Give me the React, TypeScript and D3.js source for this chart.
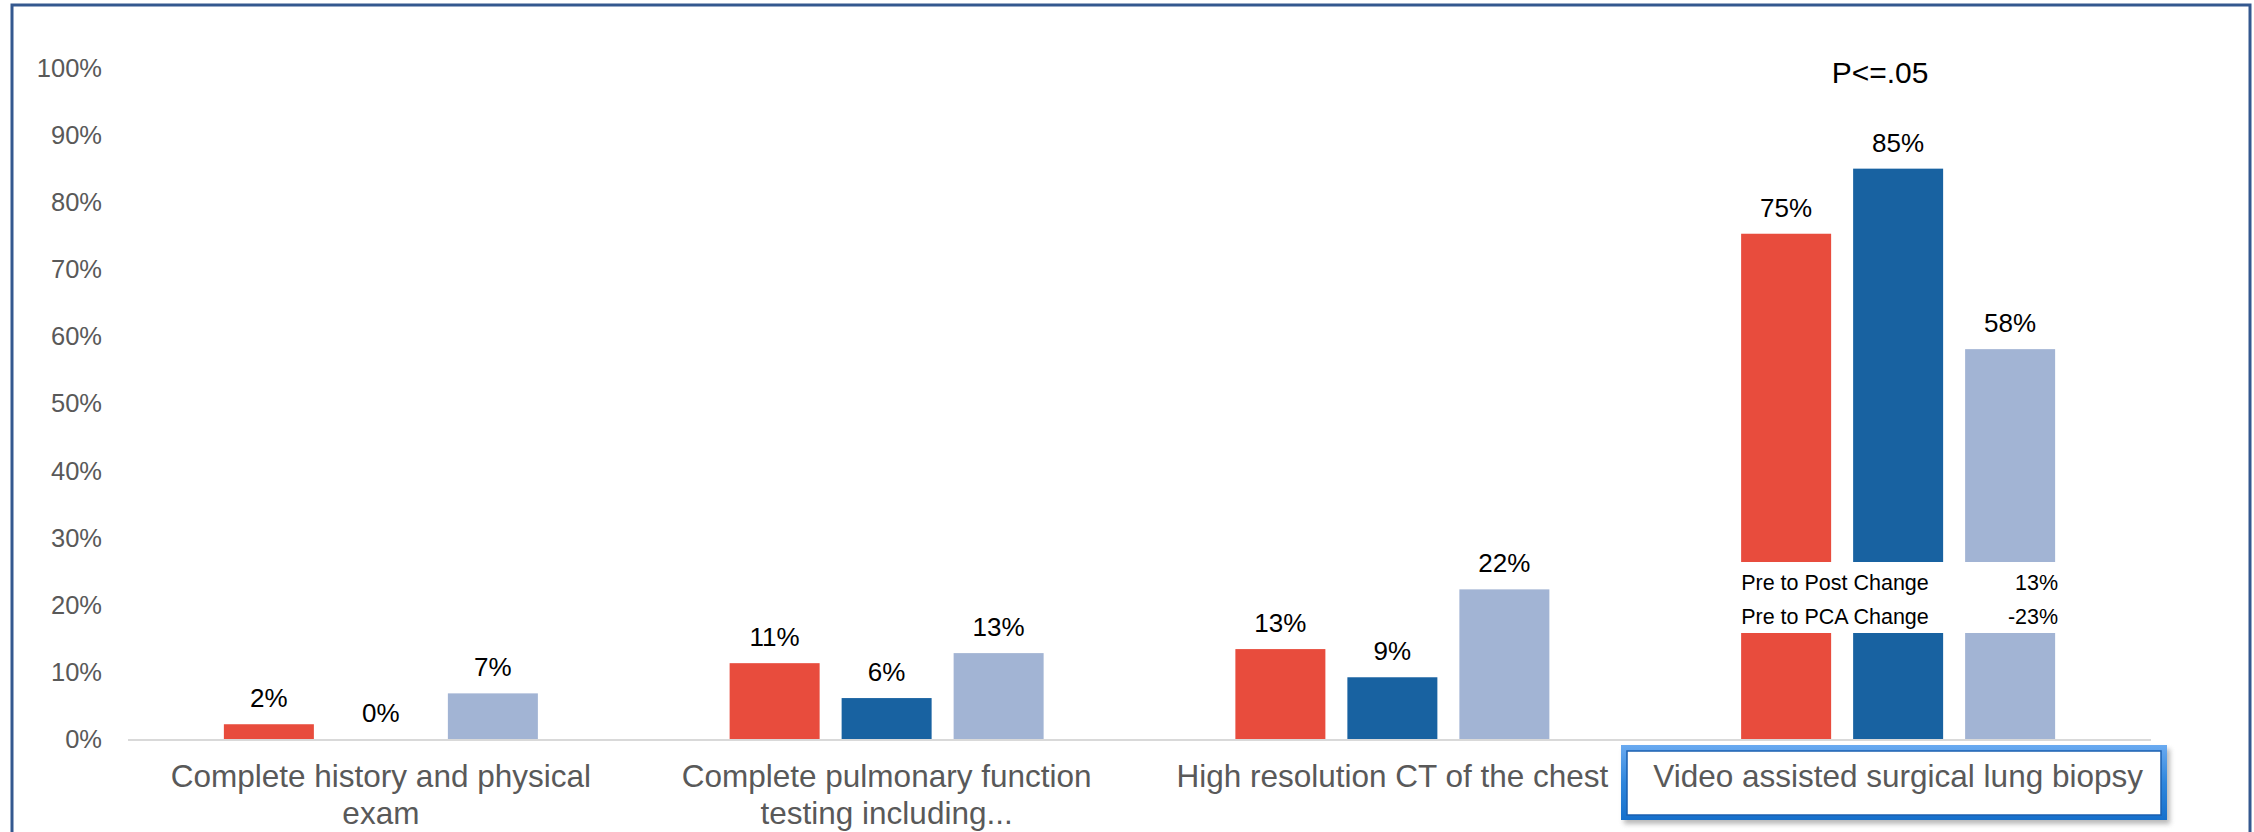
import React from "react";
import * as d3 from "d3";

const categories = [
  "Complete history and physical exam",
  "Complete pulmonary function testing including...",
  "High resolution CT of the chest",
  "Video assisted surgical lung biopsy",
];
const categoryLines = [
  ["Complete history and physical", "exam"],
  ["Complete pulmonary function", "testing including..."],
  ["High resolution CT of the chest"],
  ["Video assisted surgical lung biopsy"],
];
const seriesNames = ["Pre", "Post", "PCA"];
const preValues = [2.2, 11.3, 13.4, 75.3];
const postValues = [0, 6.1, 9.2, 85.0];
const pcaValues = [6.8, 12.8, 22.3, 58.1];
const seriesColors = ["#E84C3D", "#1862A1", "#A2B4D4"];
const yTicks = [0, 10, 20, 30, 40, 50, 60, 70, 80, 90, 100];
const changeRows = [
  { label: "Pre to Post Change", value: "13%" },
  { label: "Pre to PCA Change", value: "-23%" },
];
const pLabel = "P<=.05";

const W = 2254;
const H = 832;
const FONT = "'Liberation Sans', Arial, sans-serif";

export default function App() {
  const seriesValues = [preValues, postValues, pcaValues];
  const x0 = d3.scaleBand<string>().domain(categories).range([128, 2151]).padding(0);
  const inner = 314;
  const x1 = d3.scaleBand<string>().domain(seriesNames).range([0, inner]).paddingInner(0.1964).paddingOuter(0);
  const off = (x0.bandwidth() - inner) / 2;
  const y = d3.scaleLinear().domain([0, 100]).range([739, 68]);

  const lastCat = categories[3];
  const gx = (x0(lastCat) as number) + off;
  const tableLeft = gx + (x1(seriesNames[0]) as number);
  const tableRight = gx + (x1(seriesNames[2]) as number) + x1.bandwidth();

  return (
    <svg width={W} height={H} style={{ position: "absolute", left: 0, top: 0, background: "#fff" }}>
      <defs>
        <linearGradient id="boxGrad" x1="0" y1="0" x2="0" y2="1">
          <stop offset="0" stopColor="#6aaaf0" />
          <stop offset="0.5" stopColor="#2f86dc" />
          <stop offset="1" stopColor="#1670cc" />
        </linearGradient>
        <filter id="shadow" x="-5%" y="-20%" width="110%" height="150%">
          <feGaussianBlur stdDeviation="2.5" />
        </filter>
      </defs>
      <rect x={0} y={0} width={W} height={H} fill="#fff" />
      {/* outer frame */}
      <rect x={12} y={5} width={2238} height={900} fill="none" stroke="#34588f" strokeWidth={3} />

      {/* y tick labels */}
      {yTicks.map((t) => (
        <text key={t} x={102} y={y(t)} dy="0.35em" textAnchor="end" fontFamily={FONT} fontSize={25.5} fill="#595959">
          {t + "%"}
        </text>
      ))}

      {/* bars */}
      {categories.map((c, ci) => (
        <g key={c} transform={`translate(${(x0(c) as number) + off},0)`}>
          {seriesNames.map((s, si) => {
            const v = seriesValues[si][ci];
            const bx = x1(s) as number;
            return (
              <g key={s}>
                {v > 0 && (
                  <rect x={bx} y={y(v)} width={x1.bandwidth()} height={y(0) - y(v)} fill={seriesColors[si]} />
                )}
                <text x={bx + x1.bandwidth() / 2} y={y(v) - 17} textAnchor="middle" fontFamily={FONT} fontSize={26} fill="#000">
                  {Math.round(v) + "%"}
                </text>
              </g>
            );
          })}
        </g>
      ))}

      {/* axis line */}
      <line x1={128} x2={2151} y1={y(0) + 1} y2={y(0) + 1} stroke="#d9d9d9" strokeWidth={2} />

      {/* change table overlay */}
      <rect x={tableLeft - 5} y={562} width={tableRight - tableLeft + 10} height={71} fill="#fff" />
      {changeRows.map((r, i) => (
        <g key={r.label}>
          <text x={tableLeft} y={590 + i * 33.5} fontFamily={FONT} fontSize={21.5} fill="#000">
            {r.label}
          </text>
          <text x={tableRight + 3} y={590 + i * 33.5} textAnchor="end" fontFamily={FONT} fontSize={21.5} fill="#000">
            {r.value}
          </text>
        </g>
      ))}

      {/* P value */}
      <text x={(x0(lastCat) as number) + x0.bandwidth() / 2 - 18} y={83} textAnchor="middle" fontFamily={FONT} fontSize={30} fill="#000">
        {pLabel}
      </text>

      {/* highlight box around last category label */}
      <rect x={1624} y={749} width={546} height={75} fill="#8a8a8a" opacity={0.6} filter="url(#shadow)" />
      <rect x={1621} y={745} width={546} height={75} fill="url(#boxGrad)" />
      <rect x={1627} y={751} width={534} height={64} fill="#fff" stroke="#1a5fb0" strokeWidth={1.5} />

      {/* category labels */}
      {categories.map((c, ci) => (
        <text key={c} textAnchor="middle" fontFamily={FONT} fontSize={31.5} fill="#595959">
          {categoryLines[ci].map((ln, li) => (
            <tspan key={li} x={(x0(c) as number) + x0.bandwidth() / 2} y={787 + li * 37}>
              {ln}
            </tspan>
          ))}
        </text>
      ))}
    </svg>
  );
}
